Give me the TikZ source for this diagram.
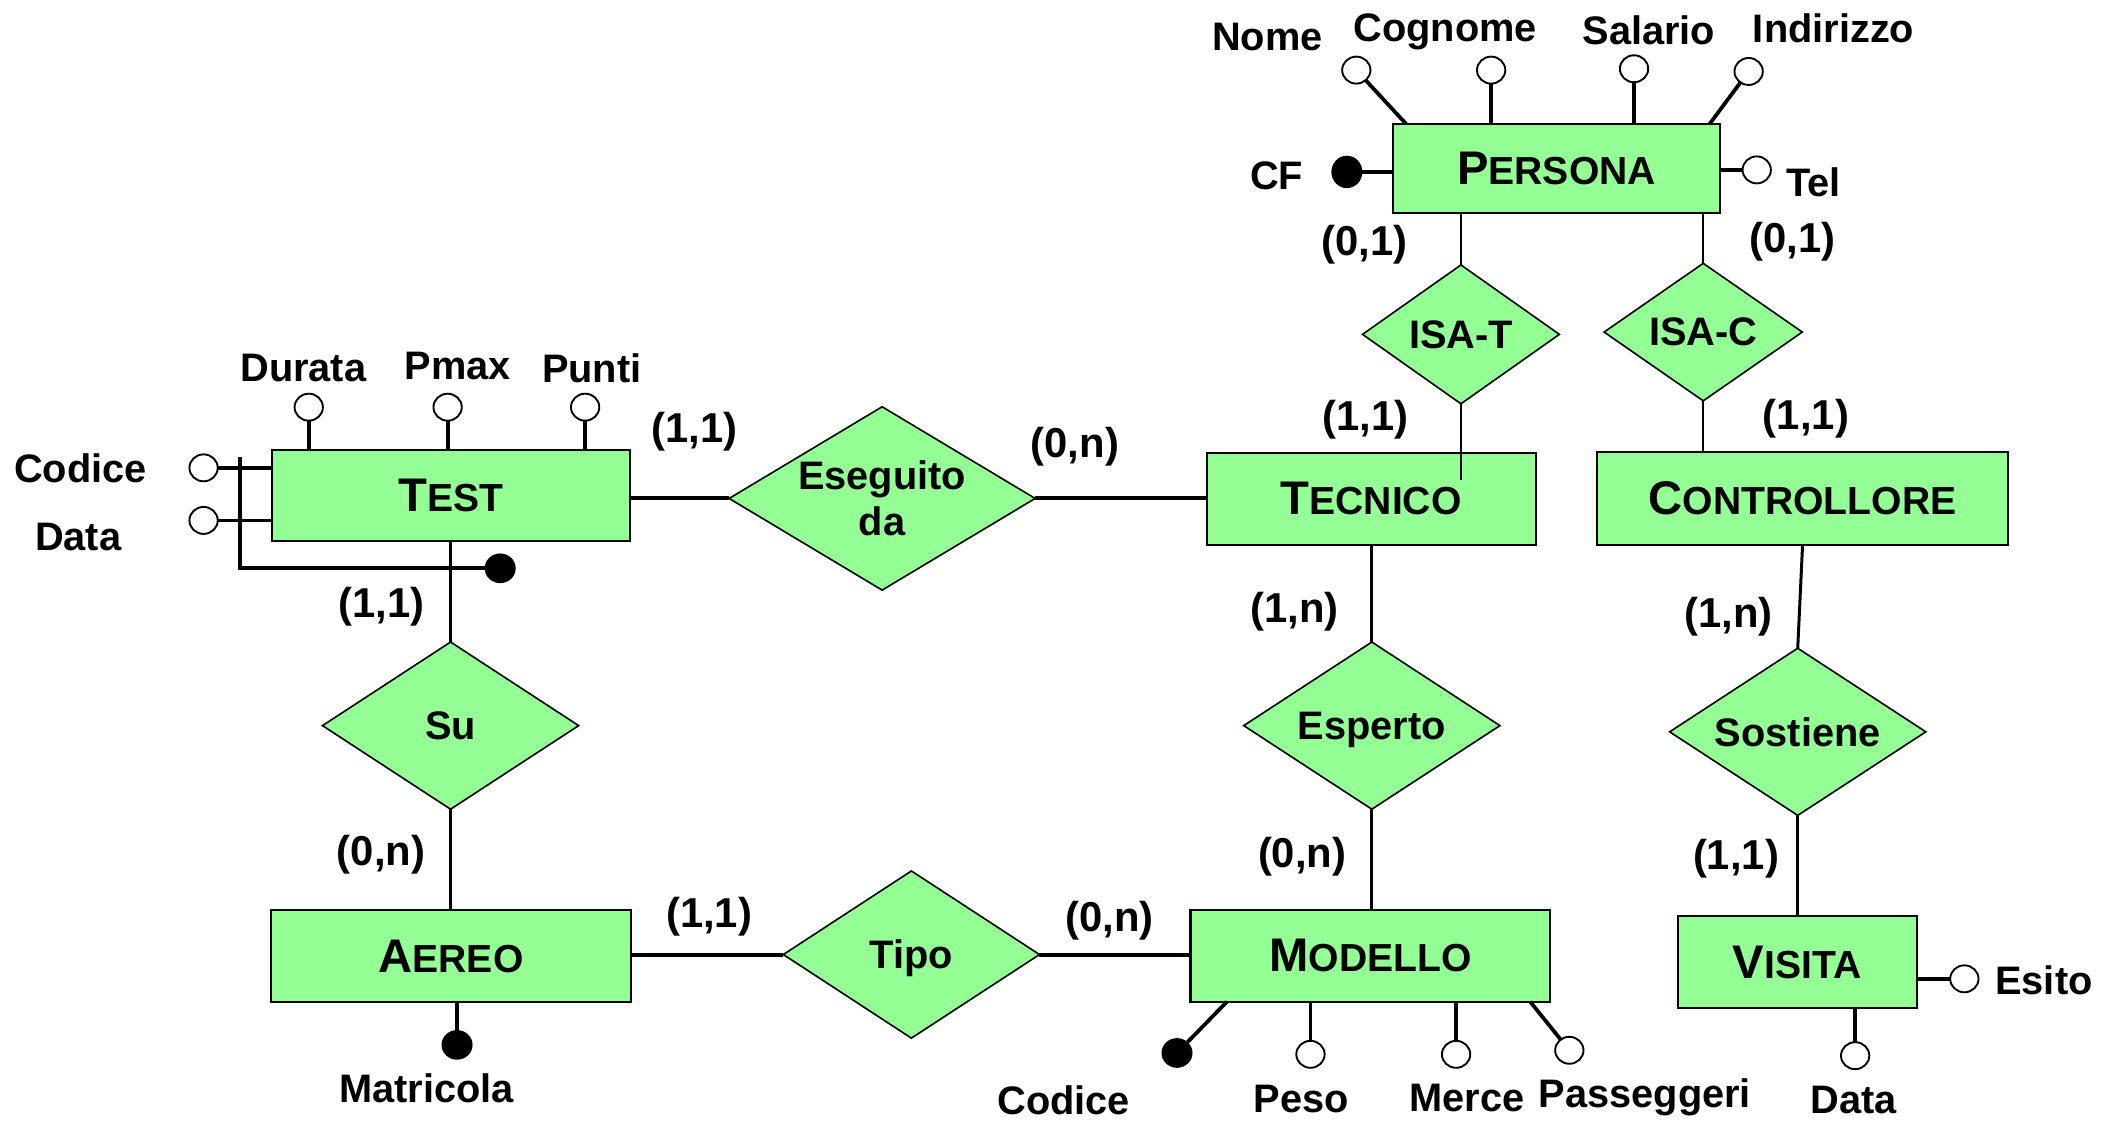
\documentclass[tikz,border=0pt]{standalone}
\usepackage{fontspec}
\setmainfont{Liberation Sans}
\usetikzlibrary{shapes.geometric}

\definecolor{ergreen}{RGB}{148,255,148}
\newcommand{\bigsmall}[2]{{\fontsize{35}{35}\selectfont #1}{\fontsize{29}{29}\selectfont #2}}

\tikzset{
    entity/.style={draw, fill=ergreen, line width=1.5pt, inner sep=0pt, outer sep=0pt,
        font=\bfseries},
    relation/.style={diamond, aspect=1.53, draw, fill=ergreen, line width=1.2pt, inner sep=0pt, outer sep=0pt,
        align=center, text depth=0pt, font=\fontsize{29.5}{34}\selectfont\bfseries},
    attr/.style={ellipse, draw, fill=white, line width=1.4pt, minimum width=21pt, minimum height=20pt,
        inner sep=0pt, outer sep=0pt},
    keyattr/.style={ellipse, fill=black, minimum width=23pt, minimum height=22pt, inner sep=0pt, outer sep=0pt},
    lbl/.style={inner sep=0pt, text depth=0pt, font=\fontsize{29.5}{34}\selectfont\bfseries},
    card/.style={inner sep=0pt, font=\fontsize{31}{31}\selectfont\bfseries},
    conn/.style={line width=2.2pt},
    heavy/.style={line width=3pt},
    attrline/.style={line width=2.8pt},
    isaline/.style={line width=1.5pt}
}

\begin{document}
\begin{tikzpicture}[x=1pt, y=-1pt]
    \useasboundingbox (0,0) rectangle (1568,831);

    % entities
    \node[entity, minimum width=243pt, minimum height=66pt] (persona) at (1154.5,125) {\bigsmall{P}{ERSONA}};
    \node[entity, minimum width=266pt, minimum height=68pt] (test) at (334.5,367.5) {\bigsmall{T}{EST}};
    \node[entity, minimum width=244pt, minimum height=68pt] (tecnico) at (1017,370) {\bigsmall{T}{ECNICO}};
    \node[entity, minimum width=305pt, minimum height=69pt] (controllore) at (1337,369.5) {\bigsmall{C}{ONTROLLORE}};
    \node[entity, minimum width=267pt, minimum height=68pt] (aereo) at (334.5,709.3) {\bigsmall{A}{EREO}};
    \node[entity, minimum width=267pt, minimum height=68pt] (modello) at (1016.5,709) {\bigsmall{M}{ODELLO}};
    \node[entity, minimum width=177pt, minimum height=68pt] (visita) at (1333,713.5) {\bigsmall{V}{ISITA}};

    % relationships
    \node[relation, aspect=1.42, minimum width=146pt, minimum height=103pt] (isat) at (1083.6,248) {ISA-T};
    \node[relation, aspect=1.42, minimum width=147pt, minimum height=102pt] (isac) at (1263.3,246.3) {ISA-C};
    \node[relation, aspect=1.67, minimum width=227pt, minimum height=136pt] (eseguito) at (654.3,369.7) {Eseguito\\da};
    \node[relation, minimum width=190pt, minimum height=124pt] (su) at (334.2,538.2) {Su};
    \node[relation, minimum width=190pt, minimum height=124pt] (esperto) at (1017.5,538.2) {Esperto};
    \node[relation, minimum width=190pt, minimum height=124pt] (sostiene) at (1333.4,542.8) {Sostiene};
    \node[relation, minimum width=190pt, minimum height=124pt] (tipo) at (676,708) {Tipo};

    \draw[isaline] (isat.north) -- (isat.north |- persona.south);
    \draw[isaline] (isat.south) -- ([yshift=-20pt]isat.south |- tecnico.north);
    \draw[isaline] (isac.north) -- (isac.north |- persona.south);
    \draw[isaline] (isac.south) -- (isac.south |- controllore.north);

    \draw[heavy] (test.east |- eseguito.west) -- (eseguito.west);
    \draw[heavy] (eseguito.east) -- (eseguito.east -| tecnico.west);
    \draw[conn] (su.north |- test.south) -- (su.north);
    \draw[conn] (su.south) -- (su.south |- aereo.north);
    \draw[conn] (esperto.north |- tecnico.south) -- (esperto.north);
    \draw[conn] (esperto.south) -- (esperto.south |- modello.north);
    \draw[conn] (controllore.south) -- (sostiene.north);
    \draw[conn] (sostiene.south) -- (sostiene.south |- visita.north);
    \draw[heavy] (aereo.east |- tipo.west) -- (tipo.west);
    \draw[heavy] (tipo.east) -- (tipo.east -| modello.west);

    % attributes of PERSONA
    \node[attr] (nome) at (1006,52) {};
    \node[attr] (cognome) at (1106,52) {};
    \node[attr] (salario) at (1212,51) {};
    \node[attr] (indirizzo) at (1297,53) {};
    \node[keyattr, minimum height=24pt] (cf) at (999,127.5) {};
    \node[attr] (tel) at (1303,126) {};
    \draw[attrline] (nome) -- ([xshift=10pt]persona.north west);
    \draw[attrline] (cognome) -- (cognome |- persona.north);
    \draw[attrline] (salario) -- (salario |- persona.north);
    \draw[attrline] (indirizzo) -- ([xshift=-8pt]persona.north east);
    \draw[attrline] (cf) -- (cf -| persona.west);
    \draw[attrline] (tel) -- (tel -| persona.east);
    \node[lbl] (lnome) at (940,27) {Nome};
    \node[lbl] (lcognome) at (1072,20.5) {Cognome};
    \node[lbl] (lsalario) at (1223,22) {Salario};
    \node[lbl] (lindirizzo) at (1360,21) {Indirizzo};
    \node[lbl] (lcf) at (947,130) {CF};
    \node[lbl] (ltel) at (1345,135) {Tel};

    % attributes of TEST
    \node[attr] (durata) at (229,302) {};
    \node[attr] (pmax) at (332,302) {};
    \node[attr] (punti) at (434,302) {};
    \node[attr] (tcodice) at (151,347) {};
    \node[attr] (tdata) at (151,386) {};
    \node[keyattr] (tkey) at (371,421.5) {};
    \coordinate (tbar) at (178,339);
    \draw[attrline] (durata) -- (durata |- test.north);
    \draw[attrline] (pmax) -- (pmax |- test.north);
    \draw[attrline] (punti) -- (punti |- test.north);
    \draw[attrline] (tcodice) -- (tcodice -| test.west);
    \draw[attrline] (tdata) -- (tdata -| test.west);
    \draw[attrline] (tbar) |- (tkey);
    \node[lbl] (ldurata) at (225,273) {Durata};
    \node[lbl] (lpmax) at (339.5,271) {Pmax};
    \node[lbl] (lpunti) at (439,273) {Punti};
    \node[lbl] (ltcodice) at (59.6,347) {Codice};
    \node[lbl] (ltdata) at (58,398) {Data};

    % attributes of AEREO
    \node[keyattr] (matricola) at (339,775) {};
    \draw[attrline] (matricola) -- (matricola |- aereo.south);
    \node[lbl] (lmatricola) at (316.5,807) {Matricola};

    % attributes of MODELLO
    \node[keyattr] (mcodice) at (873,781) {};
    \node[attr] (peso) at (972,782) {};
    \node[attr] (merce) at (1080,782) {};
    \node[attr] (passeggeri) at (1164,779) {};
    \draw[attrline] (mcodice) -- ([xshift=27pt]modello.south west);
    \draw[attrline] (peso) -- (peso |- modello.south);
    \draw[attrline] (merce) -- (merce |- modello.south);
    \draw[attrline] (passeggeri) -- ([xshift=-15pt]modello.south east);
    \node[lbl] (lmcodice) at (789,816) {Codice};
    \node[lbl] (lpeso) at (965,815) {Peso};
    \node[lbl] (lmerce) at (1088,814) {Merce};
    \node[lbl] (lpasseggeri) at (1220,811) {Passeggeri};

    % attributes of VISITA
    \node[attr] (esito) at (1457,726) {};
    \node[attr] (vdata) at (1376,783) {};
    \draw[attrline] (esito) -- (esito -| visita.east);
    \draw[attrline] (vdata) -- (vdata |- visita.south);
    \node[lbl] (lesito) at (1516,727) {Esito};
    \node[lbl] (lvdata) at (1375,816) {Data};

    % cardinalities
    \node[card] (c1) at (1012,181.7) {(0,1)};
    \node[card] (c2) at (1329.5,179.3) {(0,1)};
    \node[card] (c3) at (1013,311.6) {(1,1)};
    \node[card] (c4) at (1339.5,310.3) {(1,1)};
    \node[card] (c5) at (515.2,320) {(1,1)};
    \node[card] (c6) at (797.2,331) {(0,n)};
    \node[card] (c7) at (283,450) {(1,1)};
    \node[card] (c8) at (282.6,634.3) {(0,n)};
    \node[card] (c9) at (960.2,453.8) {(1,n)};
    \node[card] (c10) at (965.8,635.5) {(0,n)};
    \node[card] (c11) at (1282,457.5) {(1,n)};
    \node[card] (c12) at (1287.6,636.7) {(1,1)};
    \node[card] (c13) at (526,680) {(1,1)};
    \node[card] (c14) at (823,683) {(0,n)};

\end{tikzpicture}
\end{document}
